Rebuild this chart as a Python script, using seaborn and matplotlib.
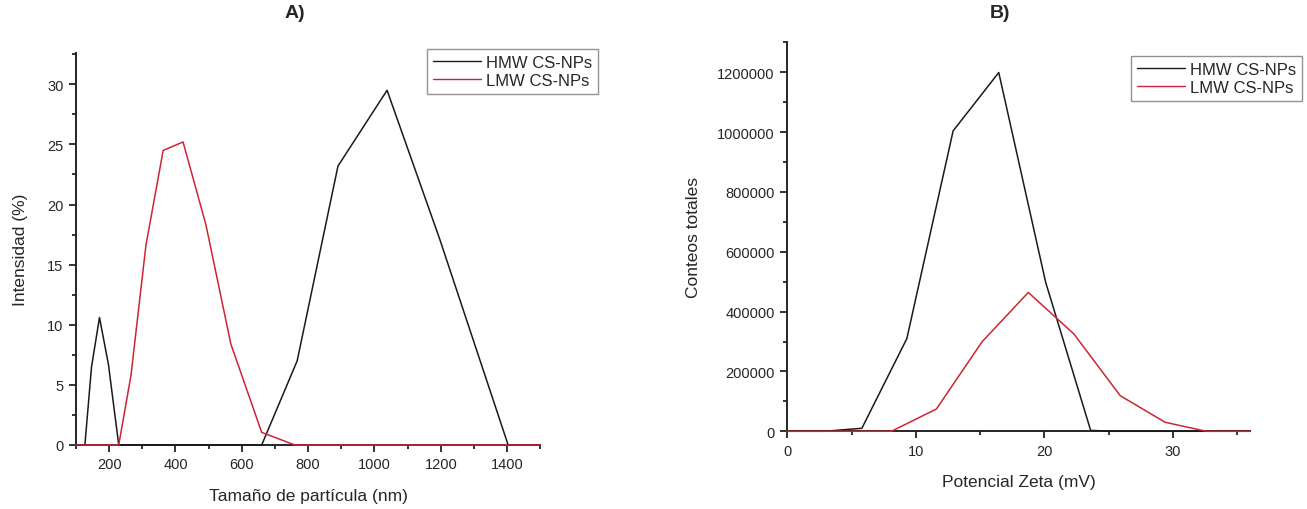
import pandas as pd
import numpy as np
import matplotlib
matplotlib.use("Agg")
import matplotlib.pyplot as plt
from matplotlib.ticker import MultipleLocator
import seaborn as sns

# datos
# A) distribución de tamaño
size_hmw = [100, 127, 147, 171, 198, 229, 660, 767, 890, 1038, 1197, 1403, 1500]
int_hmw = [0, 0, 6.5, 10.6, 6.7, 0, 0, 7.0, 23.2, 29.5, 17.1, 0, 0]
size_lmw = [100, 229, 266, 311, 363, 423, 492, 567, 660, 760, 1500]
int_lmw = [0, 0, 5.8, 16.6, 24.5, 25.2, 18.3, 8.4, 1.05, 0, 0]

# B) potencial zeta
zeta_hmw = [0, 2.9, 5.8, 9.3, 12.9, 16.45, 20.1, 23.6, 25.3, 36]
cnt_hmw = [0, 0, 10000, 310000, 1004000, 1199000, 498000, 3000, 0, 0]
zeta_lmw = [0, 8.1, 11.6, 15.15, 18.75, 22.3, 25.9, 29.4, 32.6, 36]
cnt_lmw = [0, 0, 74500, 299000, 464000, 325000, 119000, 30000, 0, 0]

labels = ["HMW CS-NPs", "LMW CS-NPs"]
colors = ["#1a1a1a", "#cf2431"]

sns.set_style("ticks")
plt.rcParams["font.family"] = ["Liberation Sans", "DejaVu Sans"]

fig = plt.figure(figsize=(13.07, 5.10), dpi=100)
ax1 = fig.add_axes([0.0581, 0.1255, 0.3553, 0.7686])
ax2 = fig.add_axes([0.6024, 0.1524, 0.3540, 0.7627])

df_a = pd.concat([
    pd.DataFrame({"x": size_hmw, "y": int_hmw, "serie": labels[0]}),
    pd.DataFrame({"x": size_lmw, "y": int_lmw, "serie": labels[1]}),
])
df_b = pd.concat([
    pd.DataFrame({"x": zeta_hmw, "y": cnt_hmw, "serie": labels[0]}),
    pd.DataFrame({"x": zeta_lmw, "y": cnt_lmw, "serie": labels[1]}),
])

for ax, df in [(ax1, df_a), (ax2, df_b)]:
    sns.lineplot(data=df, x="x", y="y", hue="serie", palette=colors,
                 estimator=None, sort=False, linewidth=1.1, ax=ax,
                 clip_on=False, zorder=3)
    sns.despine(ax=ax)
    ax.spines["left"].set_linewidth(1.4)
    ax.spines["bottom"].set_linewidth(1.4)
    ax.tick_params(which="major", length=5, width=1.2, labelsize=10.5, direction="out",
                   color="#111111", pad=4)
    ax.tick_params(which="minor", length=3, width=1.2, direction="out", color="#111111")

# panel A
ax1.set_xlim(100, 1500)
ax1.set_ylim(0, 32.6)
ax1.xaxis.set_major_locator(MultipleLocator(200))
ax1.xaxis.set_minor_locator(MultipleLocator(100))
ax1.yaxis.set_major_locator(MultipleLocator(5))
ax1.yaxis.set_minor_locator(MultipleLocator(2.5))
ax1.set_xlabel("Tamaño de partícula (nm)", fontsize=12.5, labelpad=12)
ax1.set_ylabel("Intensidad (%)", fontsize=12.5, labelpad=14)

# panel B
ax2.set_xlim(0, 36)
ax2.set_ylim(0, 1300000)
ax2.xaxis.set_major_locator(MultipleLocator(10))
ax2.xaxis.set_minor_locator(MultipleLocator(5))
ax2.yaxis.set_major_locator(MultipleLocator(200000))
ax2.yaxis.set_minor_locator(MultipleLocator(100000))
ax2.ticklabel_format(axis="y", style="plain", useOffset=False)
ax2.set_xlabel("Potencial Zeta (mV)", fontsize=12.5, labelpad=12)
ax2.set_ylabel("Conteos totales", fontsize=12.5, labelpad=12)

for ax, anchor in [(ax1, (598 / 1307, 1 - 50 / 510)), (ax2, (1302 / 1307, 1 - 57 / 510))]:
    leg = ax.legend(loc="upper right", bbox_to_anchor=anchor, bbox_transform=fig.transFigure,
                    fontsize=12, frameon=True, fancybox=False, handlelength=2.9,
                    handletextpad=0.3, borderpad=0.35, labelspacing=0.2, borderaxespad=0)
    leg.get_frame().set_edgecolor("#777777")
    leg.get_frame().set_linewidth(1.0)
    for line in leg.get_lines():
        line.set_linewidth(1.0)

fig.text(295 / 1307, 1 - 14 / 510, "A)", fontsize=14, fontweight="bold", ha="center", va="center")
fig.text(1000 / 1307, 1 - 14 / 510, "B)", fontsize=14, fontweight="bold", ha="center", va="center")

fig.savefig("out.png", dpi=100)
